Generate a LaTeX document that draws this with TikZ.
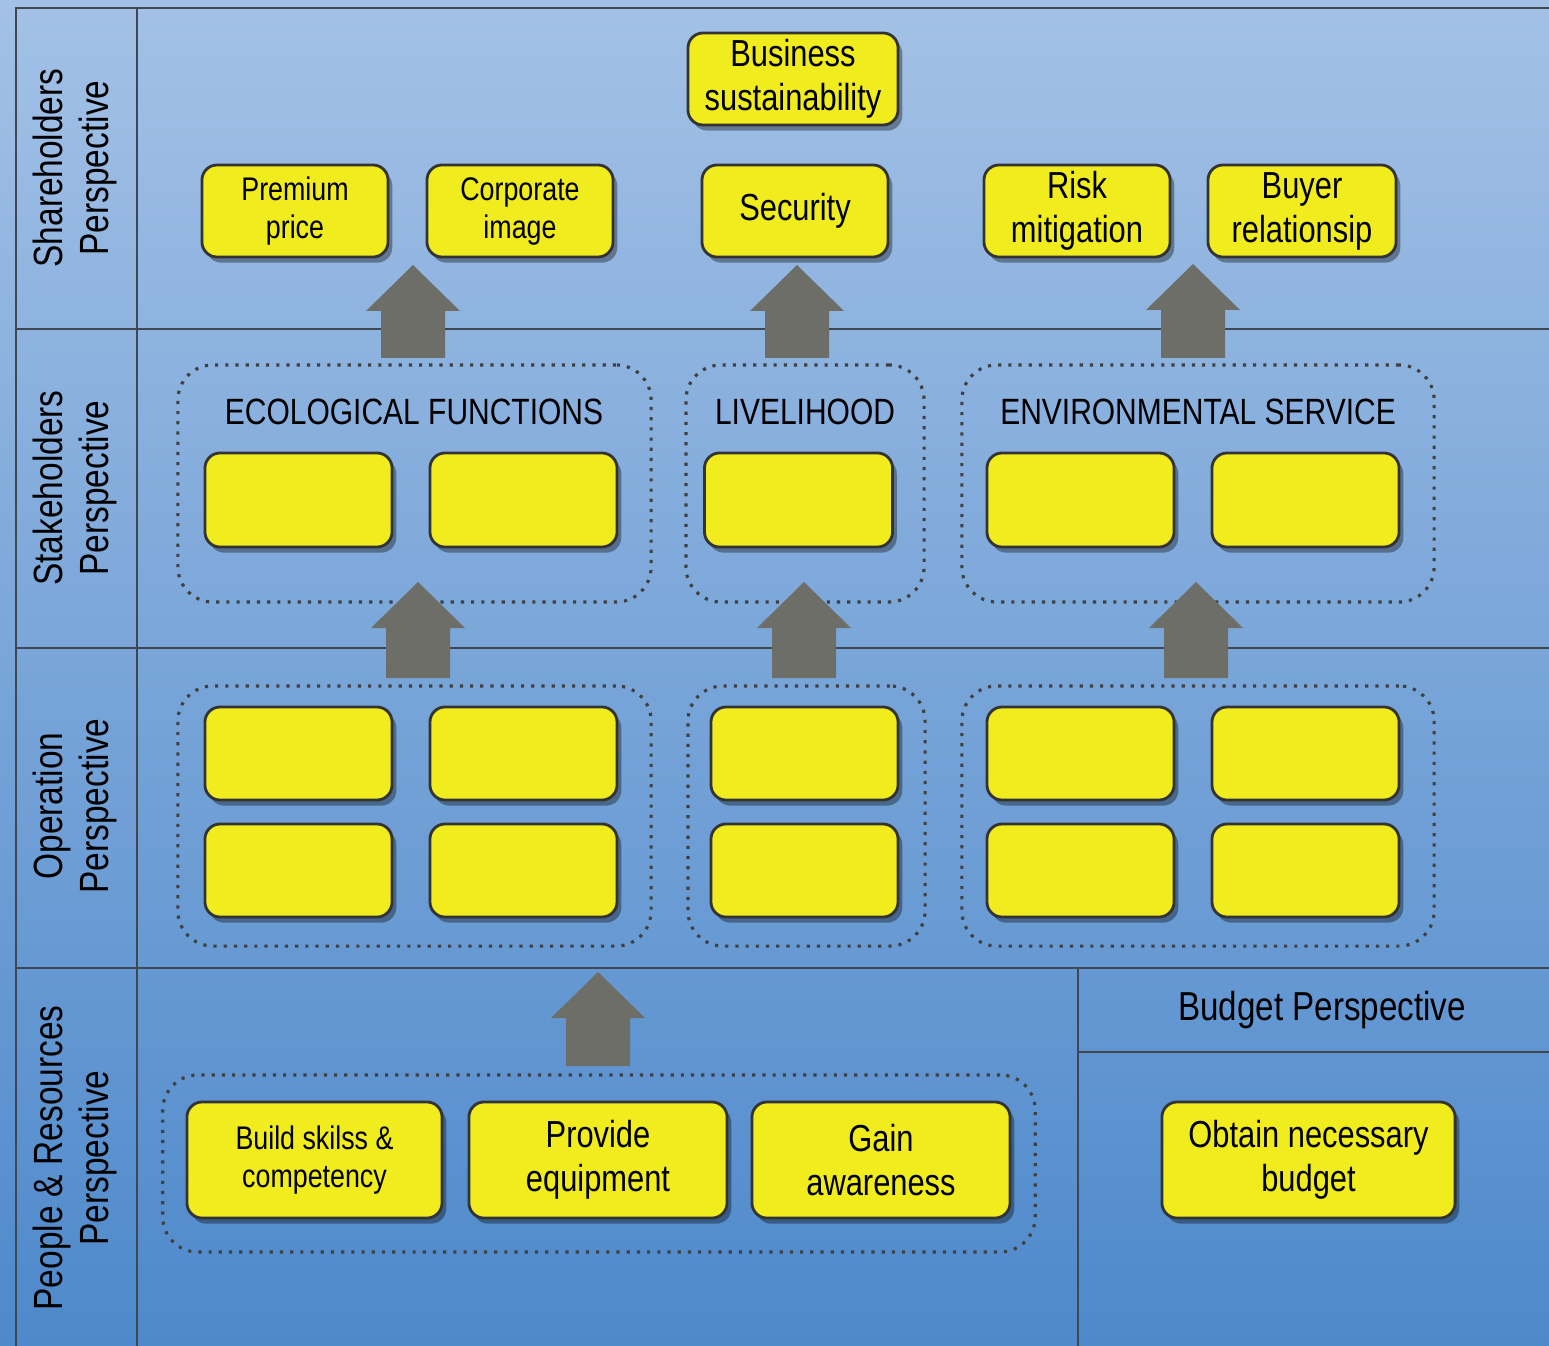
\documentclass[tikz,border=0pt]{standalone}
\usepackage{fontspec}
\setmainfont{Liberation Sans}[FakeStretch=0.82]
\usetikzlibrary{shadows}
\definecolor{bgtop}{HTML}{A3C1E6}
\definecolor{bgbot}{HTML}{4E89CB}
\definecolor{boxyellow}{HTML}{F0EC1E}
\definecolor{arrowgray}{HTML}{6E6E68}
\definecolor{framecol}{HTML}{3F4752}
\tikzset{
  ybox/.style={draw=black!80, line width=0.8pt, fill=boxyellow, rounded corners=4.3pt,
    align=center, inner sep=0pt,
    drop shadow={shadow xshift=1.2pt, shadow yshift=-1.6pt, opacity=0.35, fill=black}},
  grp/.style={draw=black!75, dotted, line width=0.9pt, rounded corners=10pt, inner sep=0pt},
  frameline/.style={draw=framecol, line width=0.8pt},
  lane/.style={rotate=90, align=center, font=\fontsize{11.6}{13}\selectfont},
  bigtxt/.style={font=\fontsize{10.7}{12.5}\selectfont},
  smalltxt/.style={font=\fontsize{9.3}{10.8}\selectfont},
  hdr/.style={font=\fontsize{10.4}{12}\selectfont},
  fatarrow/.style={fill=arrowgray, draw=none}
}
\newcommand{\uparrowat}[3]{% x, tip y, bottom y
  \fill[fatarrow] (#1,#2) -- (#1+47,#2+46) -- (#1+32,#2+46) -- (#1+32,#3)
    -- (#1-32,#3) -- (#1-32,#2+46) -- (#1-47,#2+46) -- cycle;}
\begin{document}
\begin{tikzpicture}[x=0.01cm, y=-0.01cm]
\useasboundingbox (0,0) rectangle (1549,1346);
\shade[top color=bgtop, bottom color=bgbot] (0,0) rectangle (1549,1346);

% frame lines
\draw[frameline] (16,1346) -- (16,8) -- (1549,8);
\draw[frameline] (137,8) -- (137,1346);
\draw[frameline] (16,329) -- (1549,329);
\draw[frameline] (16,648) -- (1549,648);
\draw[frameline] (16,968) -- (1549,968);
\draw[frameline] (1078,968) -- (1078,1346);
\draw[frameline] (1078,1052) -- (1549,1052);

% lane labels
\node[lane] (lsh) at (75,168) {Shareholders\\Perspective};
\node[lane] (lst) at (75,488) {Stakeholders\\Perspective};
\node[lane] (lop) at (75,806) {Operation\\Perspective};
\node[lane] (lpr) at (75,1158) {People \& Resources\\Perspective};
\node[font=\fontsize{11.5}{13}\selectfont] (lbud) at (1322,1010) {Budget Perspective};

% groups (stakeholders)
\node[grp, minimum width=4.73cm, minimum height=2.37cm] (geco) at (414.5,483.5) {};
\node[grp, minimum width=2.38cm, minimum height=2.37cm] (gliv) at (805,483.5) {};
\node[grp, minimum width=4.72cm, minimum height=2.37cm] (genv) at (1198,483.5) {};
\node[hdr] (teco) at (414,412) {ECOLOGICAL FUNCTIONS};
\node[hdr] (tliv) at (805,412) {LIVELIHOOD};
\node[hdr] (tenv) at (1198,412) {ENVIRONMENTAL SERVICE};
% groups (operation)
\node[grp, minimum width=4.73cm, minimum height=2.60cm] (oeco) at (414.5,816) {};
\node[grp, minimum width=2.37cm, minimum height=2.60cm] (oliv) at (806.5,816) {};
\node[grp, minimum width=4.72cm, minimum height=2.60cm] (oenv) at (1198,816) {};
% group (people)
\node[grp, minimum width=8.72cm, minimum height=1.77cm] (gpeo) at (599,1163.5) {};

% arrows
\uparrowat{413}{265}{358}
\uparrowat{797}{265}{358}
\uparrowat{1193}{264}{358}
\uparrowat{418}{582}{678}
\uparrowat{804}{582}{678}
\uparrowat{1196}{582}{678}
\uparrowat{598}{972}{1066}

% shareholder boxes
\node[ybox, bigtxt, minimum width=2.10cm, minimum height=0.92cm] (bus) at (793,79) {Business\\sustainability};
\node[ybox, smalltxt, minimum width=1.86cm, minimum height=0.92cm] (pp) at (295,211) {Premium\\price};
\node[ybox, smalltxt, minimum width=1.86cm, minimum height=0.92cm] (ci) at (520,211) {Corporate\\image};
\node[ybox, bigtxt, minimum width=1.86cm, minimum height=0.92cm] (sec) at (795,211) {Security};
\node[ybox, bigtxt, minimum width=1.86cm, minimum height=0.92cm] (rm) at (1077,211) {Risk\\mitigation};
\node[ybox, bigtxt, minimum width=1.88cm, minimum height=0.92cm] (br) at (1302,211) {Buyer\\relationsip};

% stakeholder boxes
\node[ybox, minimum width=1.87cm, minimum height=0.94cm] (s1) at (298.5,500) {};
\node[ybox, minimum width=1.87cm, minimum height=0.94cm] (s2) at (523.5,500) {};
\node[ybox, minimum width=1.88cm, minimum height=0.94cm] (s3) at (798.5,500) {};
\node[ybox, minimum width=1.87cm, minimum height=0.94cm] (s4) at (1080.5,500) {};
\node[ybox, minimum width=1.87cm, minimum height=0.94cm] (s5) at (1305.5,500) {};

% operation boxes
\node[ybox, minimum width=1.87cm, minimum height=0.93cm] (o11) at (298.5,753.5) {};
\node[ybox, minimum width=1.87cm, minimum height=0.93cm] (o12) at (523.5,753.5) {};
\node[ybox, minimum width=1.87cm, minimum height=0.93cm] (o13) at (804.5,753.5) {};
\node[ybox, minimum width=1.87cm, minimum height=0.93cm] (o14) at (1080.5,753.5) {};
\node[ybox, minimum width=1.87cm, minimum height=0.93cm] (o15) at (1305.5,753.5) {};
\node[ybox, minimum width=1.87cm, minimum height=0.93cm] (o21) at (298.5,870.5) {};
\node[ybox, minimum width=1.87cm, minimum height=0.93cm] (o22) at (523.5,870.5) {};
\node[ybox, minimum width=1.87cm, minimum height=0.93cm] (o23) at (804.5,870.5) {};
\node[ybox, minimum width=1.87cm, minimum height=0.93cm] (o24) at (1080.5,870.5) {};
\node[ybox, minimum width=1.87cm, minimum height=0.93cm] (o25) at (1305.5,870.5) {};

% people & resources boxes
\node[ybox, smalltxt, minimum width=2.55cm, minimum height=1.16cm] (bsk) at (314.5,1160) {Build skilss \&\\competency};
\node[ybox, bigtxt, minimum width=2.58cm, minimum height=1.16cm] (peq) at (598,1160) {Provide\\equipment};
\node[ybox, bigtxt, minimum width=2.58cm, minimum height=1.16cm] (gaw) at (881,1160) {Gain\\awareness};
% budget box
\node[ybox, bigtxt, minimum width=2.93cm, minimum height=1.16cm] (onb) at (1308.5,1160) {Obtain necessary\\budget};
\end{tikzpicture}
\end{document}
